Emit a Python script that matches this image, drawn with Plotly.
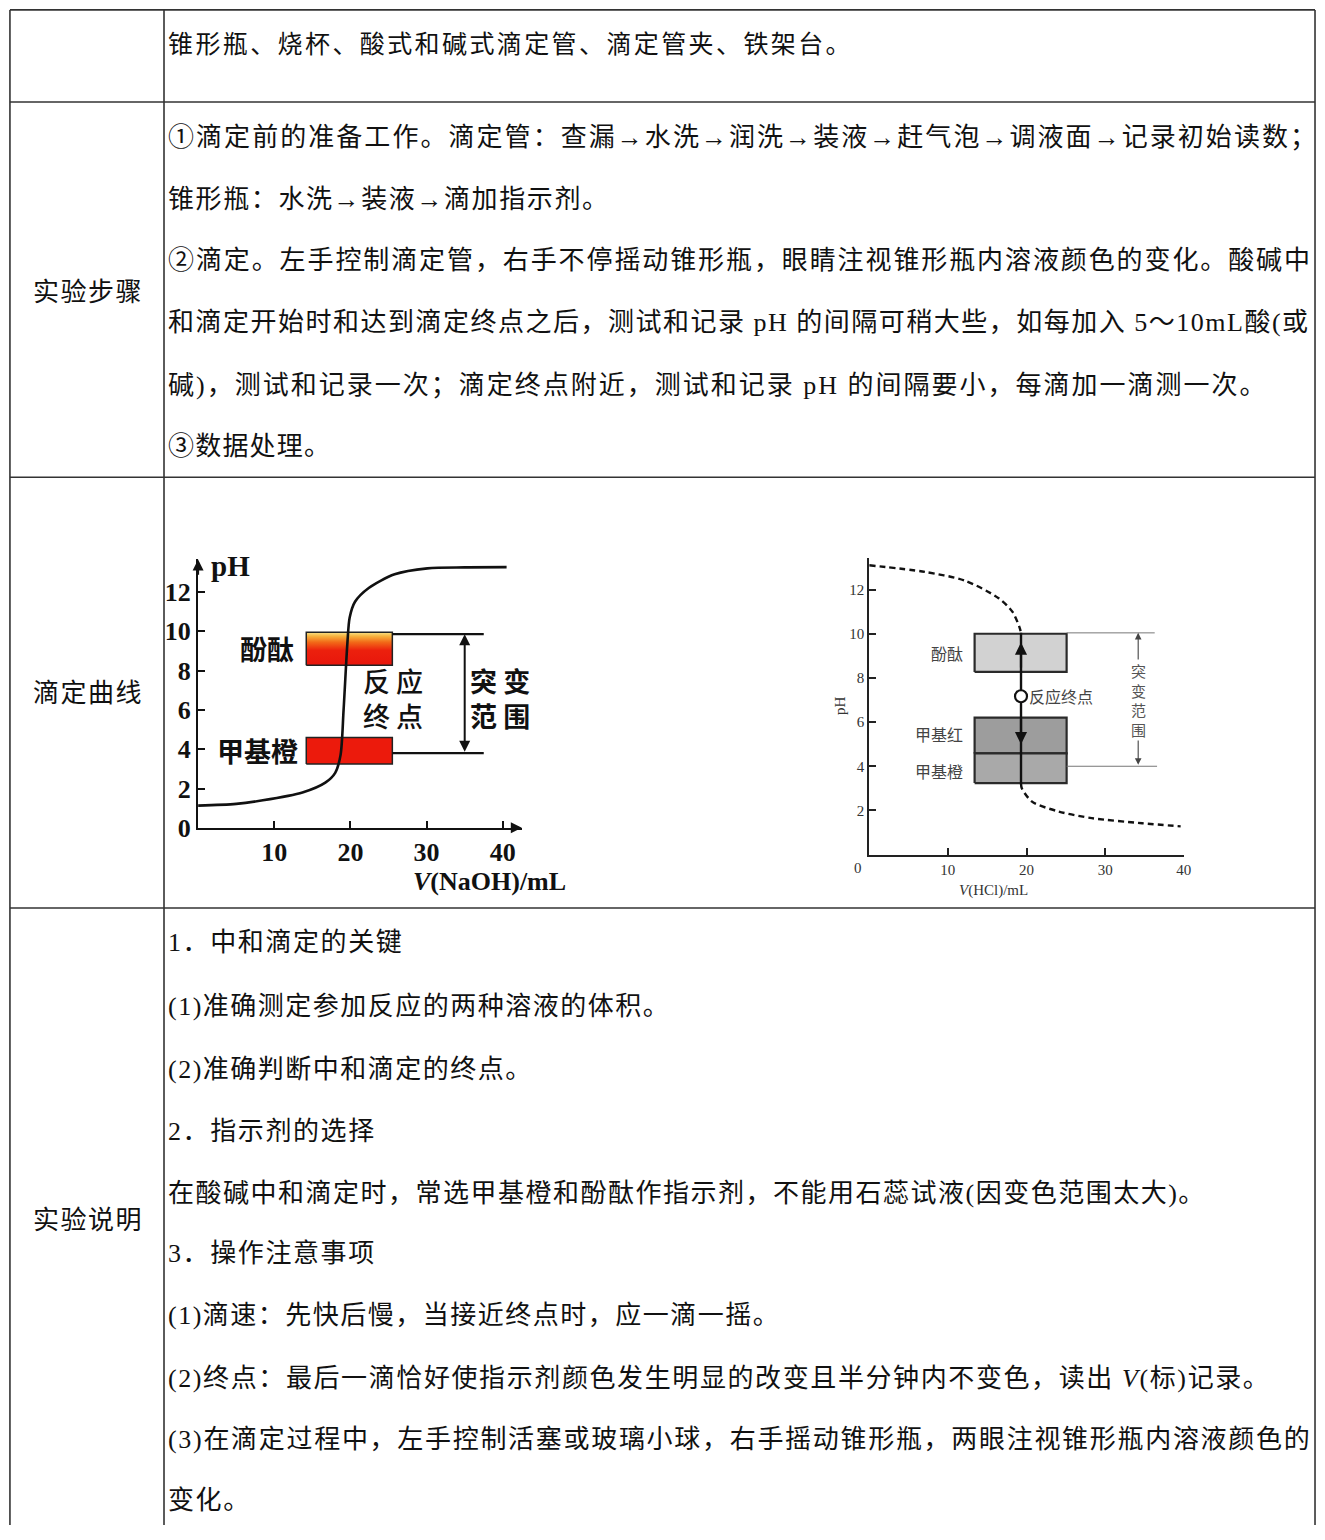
import plotly.graph_objects as go

W, H = 1325, 1540

# ---------------- data ----------------
row_labels = ["实验步骤", "滴定曲线", "实验说明"]
row1_lines = ["锥形瓶、烧杯、酸式和碱式滴定管、滴定管夹、铁架台。"]
row2_lines = [
    "①滴定前的准备工作。滴定管：查漏→水洗→润洗→装液→赶气泡→调液面→记录初始读数；",
    "锥形瓶：水洗→装液→滴加指示剂。",
    "②滴定。左手控制滴定管，右手不停摇动锥形瓶，眼睛注视锥形瓶内溶液颜色的变化。酸碱中",
    "和滴定开始时和达到滴定终点之后，测试和记录 pH 的间隔可稍大些，如每加入 5～10mL酸(或",
    "碱)，测试和记录一次；滴定终点附近，测试和记录 pH 的间隔要小，每滴加一滴测一次。",
    "③数据处理。",
]
row4_lines = [
    "1．中和滴定的关键",
    "(1)准确测定参加反应的两种溶液的体积。",
    "(2)准确判断中和滴定的终点。",
    "2．指示剂的选择",
    "在酸碱中和滴定时，常选甲基橙和酚酞作指示剂，不能用石蕊试液(因变色范围太大)。",
    "3．操作注意事项",
    "(1)滴速：先快后慢，当接近终点时，应一滴一摇。",
    "(2)终点：最后一滴恰好使指示剂颜色发生明显的改变且半分钟内不变色，读出 <i>V</i>(标)记录。",
    "(3)在滴定过程中，左手控制活塞或玻璃小球，右手摇动锥形瓶，两眼注视锥形瓶内溶液颜色的",
    "变化。",
]

# left chart: NaOH titration
naoh_volume = [0, 5, 8.5, 13.7, 16.7, 18.0, 18.7, 19.1, 19.6, 19.9, 20.6, 22.4, 25.8, 30.1, 35.0, 40.5]
naoh_ph = [1.13, 1.22, 1.4, 1.8, 2.3, 2.8, 3.7, 6.0, 9.4, 10.7, 11.5, 12.2, 12.9, 13.2, 13.25, 13.26]
naoh_xticks = [10, 20, 30, 40]
naoh_yticks = [0, 2, 4, 6, 8, 10, 12]
a_ind_names = ["酚酞", "甲基橙"]
a_ind_low = [8.27, 3.25]
a_ind_high = [9.95, 4.6]
a_box_volume = [14.2, 25.5]
a_jump_ph = [9.85, 3.8]
a_jump_end_volume = 37.5
a_arrow_volume = 35.0

# right chart: HCl titration
hcl_volume_upper = [0, 7.1, 12.2, 16.5, 18.2, 19.1, 19.3]
hcl_ph_upper = [13.1, 12.8, 12.4, 11.6, 11.0, 10.3, 10.05]
hcl_volume_lower = [19.3, 19.4, 20.7, 24.1, 28.3, 34.7, 39.6]
hcl_ph_lower = [3.2, 3.0, 2.4, 1.95, 1.65, 1.42, 1.28]
hcl_xticks = [10, 20, 30, 40]
hcl_yticks = [2, 4, 6, 8, 10, 12]
b_ind_names = ["酚酞", "甲基红", "甲基橙"]
b_ind_low = [8.27, 4.58, 3.24]
b_ind_high = [10.0, 6.2, 4.58]
b_ind_colors = ["#d2d2d2", "#9d9d9d", "#a9a9a9"]
b_box_volume = [13.4, 25.1]
b_end_volume = 19.3
b_end_ph = 7.17
b_jump_ph = [10.04, 4.0]
b_jump_end_volume = [36.3, 36.6]
b_arrow_volume = 34.2

# ---------------- helpers ----------------
CJK = "Liberation Serif, Noto Sans CJK SC"
SERIF = "Liberation Serif"


def px(x):
    return x / W


def py(y):
    return 1 - y / H


fig = go.Figure()
ann = []
shapes = []


def text_line(x, y, s, size=26, ls=2.0, anchor="left", color="#111"):
    ann.append(dict(
        x=px(x), y=py(y), xref="paper", yref="paper",
        text=f'<span style="letter-spacing:{ls}px">{s}</span>',
        showarrow=False, xanchor=anchor, yanchor="middle",
        font=dict(family=CJK, size=size, color=color)))


# ---------------- table ----------------
LINE = dict(color="#333", width=1.6)
for yy in [10, 103, 482, 917]:
    shapes.append(dict(type="line", xref="paper", yref="paper",
                       x0=px(10), x1=px(1323), y0=py(yy), y1=py(yy), line=LINE))
for xx in [10, 165, 1323]:
    shapes.append(dict(type="line", xref="paper", yref="paper",
                       x0=px(xx), x1=px(xx), y0=py(10), y1=py(1540), line=LINE))

for lab, yy in zip(row_labels, [295, 700, 1233]):
    text_line(89, yy, lab, size=26, ls=1.5, anchor="center")

text_line(167, 45, row1_lines[0], size=25, ls=2.4)

row2_y = [139, 201, 263, 326, 389, 451]
row2_ls = [2.05, 1.6, 1.9, 1.5, 2.0, 1.2]
for s, yy, ls in zip(row2_lines, row2_y, row2_ls):
    text_line(167, yy, s, ls=ls)

row4_y = [952, 1016, 1080, 1143, 1205, 1266, 1328, 1392, 1454, 1515]
row4_ls = [1.6, 1.5, 1.5, 1.6, 1.5, 1.6, 1.5, 1.6, 1.7, 1.6]
for s, yy, ls in zip(row4_lines, row4_y, row4_ls):
    text_line(167, yy, s, ls=ls)

# ---------------- left chart ----------------
# fillgradient: 0 maps to the top edge here, 1 to the bottom edge
grad = [[0, "#e8160c"], [0.45, "#ec200d"], [0.7, "#f26a18"], [0.88, "#f6b23e"], [1, "#f8e48a"]]
for i, (lo, hi) in enumerate(zip(a_ind_low, a_ind_high)):
    x0, x1 = a_box_volume
    kw = dict(fillgradient=dict(type="vertical", colorscale=grad)) if i == 0 else dict(fillcolor="#ec1a0c")
    fig.add_trace(go.Scatter(x=[x0, x1, x1, x0, x0], y=[lo, lo, hi, hi, lo],
                             mode="lines", fill="toself", line=dict(color="#222", width=1.5),
                             xaxis="x", yaxis="y", showlegend=False, hoverinfo="skip", **kw))
for yv in a_jump_ph:
    fig.add_trace(go.Scatter(x=[a_box_volume[1], a_jump_end_volume], y=[yv, yv], mode="lines",
                             line=dict(color="#111", width=2.2), xaxis="x", yaxis="y",
                             showlegend=False, hoverinfo="skip"))
fig.add_trace(go.Scatter(x=naoh_volume, y=naoh_ph, mode="lines",
                         line=dict(color="#111", width=2.6, shape="spline", smoothing=0.8),
                         xaxis="x", yaxis="y", showlegend=False, hoverinfo="skip"))

ann.append(dict(x=a_arrow_volume, y=a_jump_ph[0], ax=a_arrow_volume, ay=a_jump_ph[1],
                xref="x", yref="y", axref="x", ayref="y", text="", showarrow=True,
                arrowhead=2, arrowside="end+start", arrowsize=1.1, arrowwidth=2, arrowcolor="#111"))
ann.append(dict(x=0, y=13.65, ax=0, ay=12.8, xref="x", yref="y", axref="x", ayref="y",
                text="", showarrow=True, arrowhead=2, arrowsize=1.1, arrowwidth=2, arrowcolor="#111"))
ann.append(dict(x=42.5, y=0, ax=41.0, ay=0, xref="x", yref="y", axref="x", ayref="y",
                text="", showarrow=True, arrowhead=2, arrowsize=1.1, arrowwidth=2, arrowcolor="#111"))

BOLD_CJK = dict(family="Noto Sans CJK SC", size=27, color="#111", weight=700)
MED_CJK = dict(family="Noto Sans CJK SC", size=27, color="#111", weight=500)
ann.append(dict(x=9.1, y=9.11, xref="x", yref="y", text=a_ind_names[0], showarrow=False, font=BOLD_CJK))
ann.append(dict(x=7.8, y=3.93, xref="x", yref="y", text=a_ind_names[1], showarrow=False, font=BOLD_CJK))
ann.append(dict(x=25.6, y=6.6, xref="x", yref="y", text="反 应<br>终 点", showarrow=False, font=MED_CJK))
ann.append(dict(x=39.6, y=6.6, xref="x", yref="y", text="突 变<br>范 围", showarrow=False, font=BOLD_CJK))

ann.append(dict(x=px(210), y=py(572), xref="paper", yref="paper", text="<b>pH</b>", showarrow=False,
                xanchor="left", yanchor="middle", font=dict(family=SERIF, size=29, color="#111")))
ann.append(dict(x=px(492), y=py(890), xref="paper", yref="paper", text="<b><i>V</i>(NaOH)/mL</b>",
                showarrow=False, xanchor="center", yanchor="middle",
                font=dict(family=SERIF, size=26, color="#111")))

# ---------------- right chart ----------------
for lo, hi, col in zip(b_ind_low, b_ind_high, b_ind_colors):
    x0, x1 = b_box_volume
    fig.add_trace(go.Scatter(x=[x0, x1, x1, x0, x0], y=[lo, lo, hi, hi, lo], mode="lines",
                             fill="toself", fillcolor=col, line=dict(color="#2a2a2a", width=2.2),
                             xaxis="x2", yaxis="y2", showlegend=False, hoverinfo="skip"))
for yv, xe in zip(b_jump_ph, b_jump_end_volume):
    fig.add_trace(go.Scatter(x=[b_box_volume[1], xe], y=[yv, yv], mode="lines",
                             line=dict(color="#777", width=1), xaxis="x2", yaxis="y2",
                             showlegend=False, hoverinfo="skip"))
DASH = dict(color="#111", width=2.4, dash="6px,4px", shape="spline", smoothing=0.8)
fig.add_trace(go.Scatter(x=hcl_volume_upper, y=hcl_ph_upper, mode="lines", line=DASH,
                         xaxis="x2", yaxis="y2", showlegend=False, hoverinfo="skip"))
fig.add_trace(go.Scatter(x=hcl_volume_lower, y=hcl_ph_lower, mode="lines", line=DASH,
                         xaxis="x2", yaxis="y2", showlegend=False, hoverinfo="skip"))
fig.add_trace(go.Scatter(x=[b_end_volume, b_end_volume], y=[hcl_ph_lower[0], hcl_ph_upper[-1]],
                         mode="lines", line=dict(color="#111", width=2.4),
                         xaxis="x2", yaxis="y2", showlegend=False, hoverinfo="skip"))
fig.add_trace(go.Scatter(x=[b_end_volume], y=[b_end_ph], mode="markers",
                         marker=dict(size=12, color="white", line=dict(color="#111", width=2.2)),
                         xaxis="x2", yaxis="y2", showlegend=False, hoverinfo="skip"))

ann.append(dict(x=b_end_volume, y=9.6, ax=b_end_volume, ay=8.4, xref="x2", yref="y2",
                axref="x2", ayref="y2", text="", showarrow=True, arrowhead=2, arrowsize=1.1,
                arrowwidth=2.2, arrowcolor="#111"))
ann.append(dict(x=b_end_volume, y=5.0, ax=b_end_volume, ay=6.2, xref="x2", yref="y2",
                axref="x2", ayref="y2", text="", showarrow=True, arrowhead=2, arrowsize=1.1,
                arrowwidth=2.2, arrowcolor="#111"))
ann.append(dict(x=b_arrow_volume, y=b_jump_ph[0], ax=b_arrow_volume, ay=b_jump_ph[1], xref="x2",
                yref="y2", axref="x2", ayref="y2", text="", showarrow=True, arrowhead=2,
                arrowside="end+start", arrowsize=1.2, arrowwidth=1.1, arrowcolor="#444"))

GRAY = dict(family="Noto Sans CJK SC", size=16, color="#444")
ann.append(dict(x=b_arrow_volume, y=7.0, xref="x2", yref="y2", text="突<br>变<br>范<br>围",
                showarrow=False, bgcolor="white", borderpad=0,
                font=dict(family="Noto Sans CJK SC", size=15, color="#555")))
ann.append(dict(x=20.1, y=b_end_ph, xref="x2", yref="y2", text="反应终点", showarrow=False,
                xanchor="left", yanchor="middle", font=GRAY))
for name, yv in zip(b_ind_names, [9.13, 5.47, 3.77]):
    ann.append(dict(x=12.2, y=yv, xref="x2", yref="y2", text=name, showarrow=False,
                    xanchor="right", yanchor="middle", font=GRAY))
ann.append(dict(x=0, y=0, xref="x2", yref="y2", text="0", showarrow=False, xshift=-11, yshift=-13,
                font=dict(family=SERIF, size=15, color="#333")))
ann.append(dict(x=px(1036), y=py(899), xref="paper", yref="paper", text="<i>V</i>(HCl)/mL",
                showarrow=False, font=dict(family=SERIF, size=15, color="#333")))
ann.append(dict(x=px(845), y=py(712), xref="paper", yref="paper", text="pH", textangle=-90,
                showarrow=False, font=dict(family=SERIF, size=15, color="#333")))

# ---------------- axes ----------------
AX_A = dict(showgrid=False, zeroline=False, showline=True, linecolor="#111", linewidth=2.2,
            ticks="inside", ticklen=7, tickwidth=2, tickcolor="#111",
            tickfont=dict(family=SERIF, size=26, color="#111", weight=700))
AX_B = dict(showgrid=False, zeroline=False, showline=True, linecolor="#222", linewidth=2,
            ticks="inside", ticklen=7, tickwidth=2, tickcolor="#222",
            tickfont=dict(family=SERIF, size=15, color="#333"))

fig.update_layout(
    width=W, height=H, margin=dict(l=0, r=0, t=0, b=0),
    paper_bgcolor="white", plot_bgcolor="rgba(0,0,0,0)", showlegend=False,
    xaxis=dict(domain=[px(199.3), px(525)], range=[0, 42.5], anchor="y",
               tickvals=naoh_xticks, **AX_A),
    yaxis=dict(domain=[py(836), py(565)], range=[0, 13.65], anchor="x",
               tickvals=naoh_yticks, **AX_A),
    xaxis2=dict(domain=[px(874.5), px(1191)], range=[0, 40], anchor="y2",
                tickvals=hcl_xticks, **AX_B),
    yaxis2=dict(domain=[py(863), py(563.5)], range=[0, 13.43], anchor="x2",
                tickvals=hcl_yticks, **AX_B),
    annotations=ann, shapes=shapes,
)

fig.write_html("out.html", config={"displayModeBar": False},
               post_script="document.body.style.margin='0px';document.body.style.overflow='hidden';")
